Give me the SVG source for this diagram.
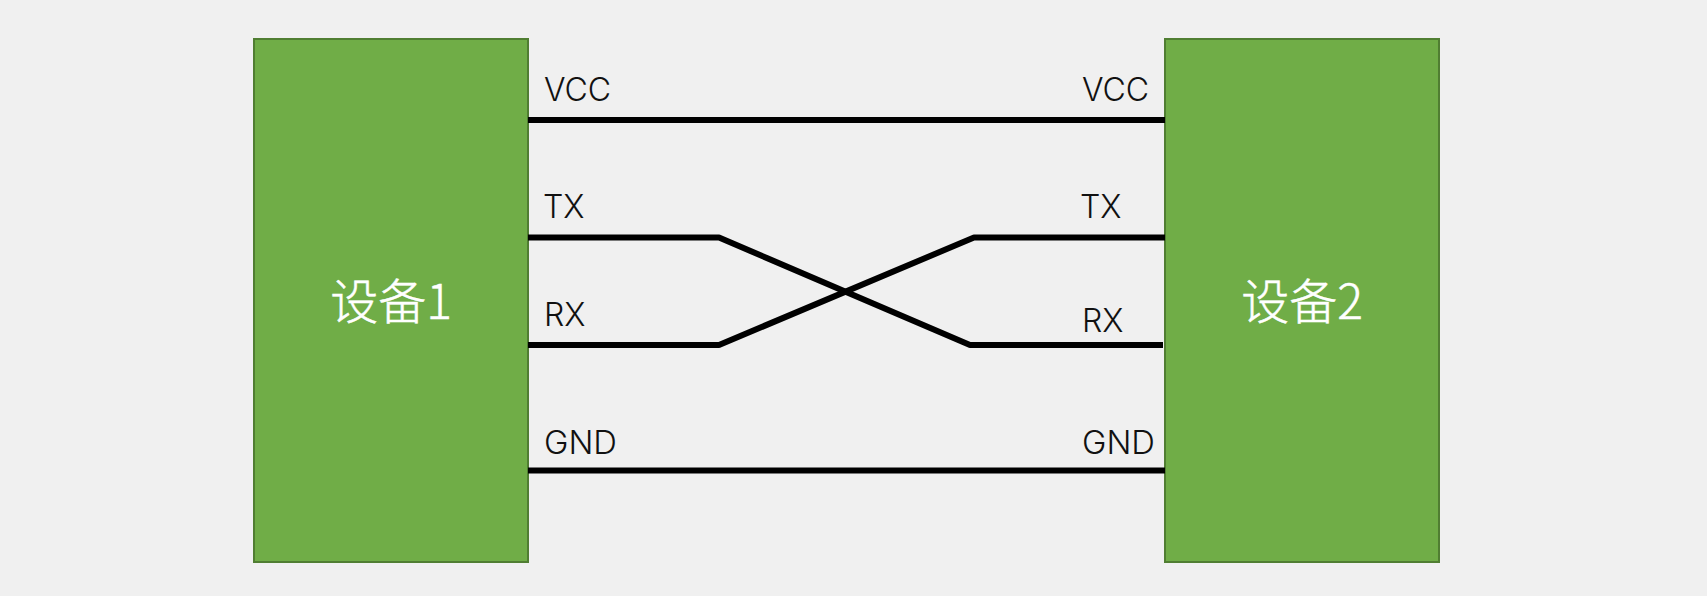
<svg xmlns="http://www.w3.org/2000/svg" width="1707" height="596" viewBox="0 0 1707 596">
<style>
.box{fill:#70ad47;stroke:#507e32;stroke-width:2}
.w{fill:none;stroke:#000;stroke-width:6;stroke-linejoin:bevel}
.l{font-family:"Inter","Noto Sans",sans-serif;font-weight:350;font-size:32px;fill:#111}
.t{font-family:"Noto Sans CJK SC","Noto Sans",sans-serif;font-weight:300;font-size:48px;fill:#fff;stroke:#fff;stroke-width:.5;text-anchor:middle}
</style>
<rect width="1707" height="596" fill="#f0f0f0"/>
<g id="device1"><rect class="box" x="254" y="39" width="274" height="523"/><text class="t" x="391" y="319">设备1</text></g>
<g id="device2"><rect class="box" x="1165" y="39" width="274" height="523"/><text class="t" x="1302" y="319">设备2</text></g>
<g id="connectors">
<path class="w" d="M528 120H1165"/>
<path class="w" d="M528 237.500H719L970 345H1163"/>
<path class="w" d="M528 345H719L974 237.500H1165"/>
<path class="w" d="M528 470.500H1165"/>
</g>
<g id="labels">
<text class="l" x="544" y="101">VCC</text><text class="l" x="1082" y="101">VCC</text>
<text class="l" x="543" y="218">TX</text><text class="l" x="1080" y="218">TX</text>
<text class="l" x="544" y="326">RX</text><text class="l" x="1082" y="332">RX</text>
<text class="l" x="544" y="454" textLength="73" lengthAdjust="spacingAndGlyphs">GND</text><text class="l" x="1082" y="454" textLength="73" lengthAdjust="spacingAndGlyphs">GND</text>
</g>
</svg>
